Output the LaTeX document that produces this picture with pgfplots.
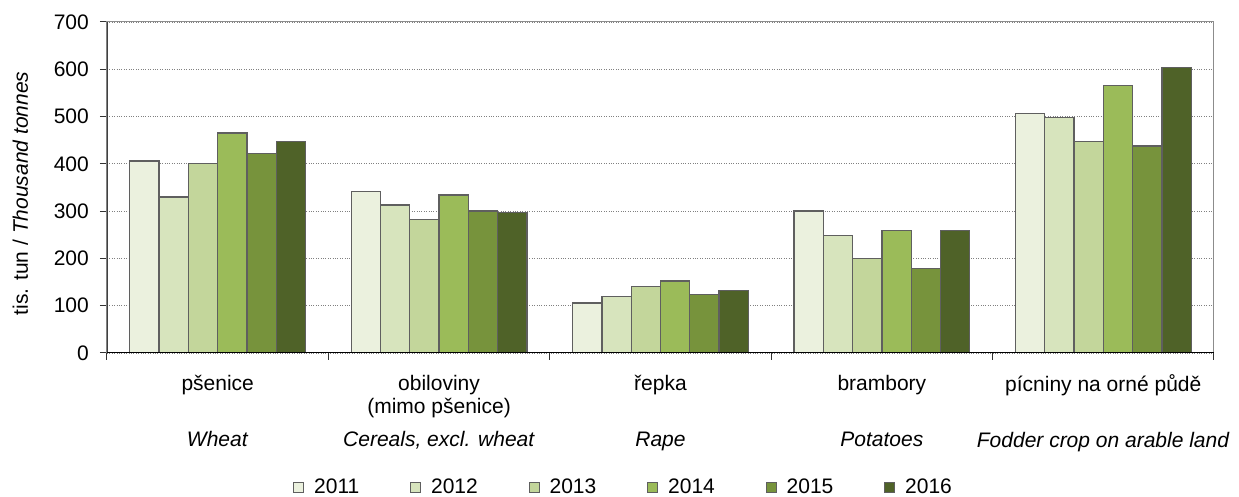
\documentclass[border=0pt]{standalone}
\usepackage{fontspec}
\setmainfont{Liberation Sans}
\usepackage{pgfplots}
\pgfplotsset{compat=1.18}

\definecolor{c2011}{HTML}{EBF1DE}
\definecolor{c2012}{HTML}{D7E4BD}
\definecolor{c2013}{HTML}{C3D69B}
\definecolor{c2014}{HTML}{9BBB59}
\definecolor{c2015}{HTML}{77933C}
\definecolor{c2016}{HTML}{4F6228}
\definecolor{edge}{HTML}{5F5F5F}

\begin{document}
\begin{tikzpicture}
\useasboundingbox (-107pt,-144pt) rectangle (1132pt,353pt);
\begin{axis}[
  scale only axis,
  width=1107pt, height=331pt,
  xmin=-0.5, xmax=4.5,
  ymin=0, ymax=700,
  ybar=0pt, bar width=29.3pt,
  font=\fontsize{21}{23}\selectfont,
  /pgf/number format/assume math mode=true,
  ytick={0,100,...,700},
  yticklabel style={inner sep=0pt, anchor=east, xshift=-11pt},
  xtick={-0.5,0.5,...,4.5},
  xticklabels={},
  extra x ticks={0,1,2,3,4},
  extra x tick labels={
    {\strut pšenice\\\mbox{}\\[10pt]\textit{Wheat}},
    {\strut obiloviny\\(mimo pšenice)\\[10pt]\textit{Cereals, excl. wheat}},
    {\strut řepka\\\mbox{}\\[10pt]\textit{Rape}},
    {\strut brambory\\\mbox{}\\[10pt]\textit{Potatoes}},
    {\strut pícniny na orné půdě\\\mbox{}\\[10pt]\textit{Fodder crop on arable land}}},
  extra x tick style={grid=none, major tick length=0pt},
  xticklabel style={align=center, inner sep=0pt, anchor=north, yshift=-21pt},
  xtick pos=bottom, ytick pos=left,
  tick align=outside,
  major tick length=7pt,
  tick style={draw=black!80, line width=1pt},
  ymajorgrids,
  grid style={dotted, draw=gray, line width=1.2pt},
  axis line style={draw=gray!90, line width=1pt},
  ylabel={tis. tun / \textit{Thousand tonnes}},
  ylabel style={at={(axis description cs:-0.0714,0.482)}, anchor=base},
  every axis plot/.append style={draw=edge, line width=1.3pt},
  legend columns=6,
  legend image code/.code={\draw[#1, line width=1pt] (0pt,-5pt) rectangle (10pt,5pt);},
  legend style={draw=none, fill=none, inner sep=0pt,
    at={(axis description cs:0.168,-0.405)}, anchor=west,
    nodes={inner sep=0pt},
    /tikz/every odd column/.append style={column sep=10pt},
    /tikz/every even column/.append style={column sep=50.8pt}},
]
\addplot[fill=c2011] coordinates {(0,406) (1,342) (2,106) (3,300) (4,506)};
\addplot[fill=c2012] coordinates {(0,330) (1,313) (2,120) (3,249) (4,498)};
\addplot[fill=c2013] coordinates {(0,401) (1,283) (2,141) (3,200) (4,448)};
\addplot[fill=c2014] coordinates {(0,465) (1,334) (2,152) (3,259) (4,565)};
\addplot[fill=c2015] coordinates {(0,422) (1,300) (2,124) (3,178) (4,438)};
\addplot[fill=c2016] coordinates {(0,448) (1,297) (2,132) (3,259) (4,604)};
\legend{2011,2012,2013,2014,2015,2016}
\draw[black!75, line width=2pt] (rel axis cs:0,0) -- (rel axis cs:0,1);
\draw[black, line width=2.5pt] (rel axis cs:0,0) -- (rel axis cs:1,0);
\end{axis}
\end{tikzpicture}
\end{document}
